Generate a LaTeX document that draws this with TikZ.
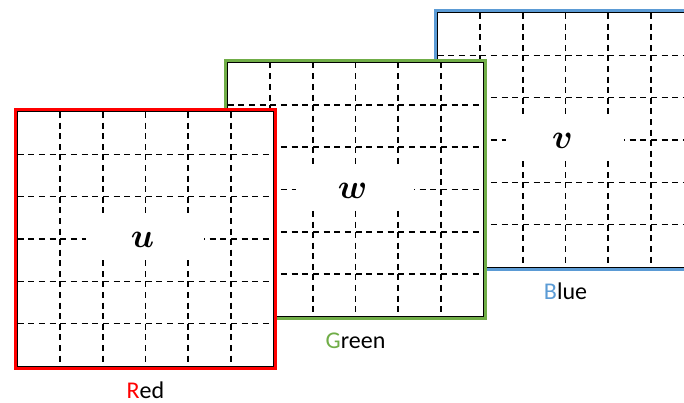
\documentclass[tikz,border=0pt]{standalone}
\usepackage{graphicx}
\usepackage{amsmath}
\usepackage{fontspec}
\setmainfont{Carlito}
\definecolor{cred}{RGB}{255,0,0}
\definecolor{cgreen}{RGB}{112,173,71}
\definecolor{cblue}{RGB}{91,155,213}
\tikzset{
  gridline/.style={black, line width=1.6pt, dash pattern=on 6pt off 4.67pt},
  gapbox/.style={fill=white, minimum width=118pt, minimum height=43.5pt, inner sep=0pt},
  letterlbl/.style={font=\fontsize{20}{24}\selectfont, inner sep=0pt},
  colorlbl/.style={anchor=base, font=\fontsize{24}{28}\selectfont, inner sep=0pt},
}
\newcommand\drawpanel[7]{%
 \begin{scope}[shift={(#2,#3)}]
  \fill[white] (-3,-3) rectangle (259,257);
  \draw[#4, line width=3pt] (-2,-2) rectangle (258,256);
  \draw[black, line width=1pt] (0,0) rectangle (256,254);
  \foreach \i in {1,...,5} {
    \foreach \j in {0,...,5} {
      \draw[gridline] ({\i*256/6},{\j*254/6}) -- ({\i*256/6},{(\j+1)*254/6});
      \draw[gridline] ({\j*256/6},{\i*254/6}) -- ({(\j+1)*256/6},{\i*254/6});
    }
  }
  \node[gapbox] (#1) at (127.5,124) {};
  \node[letterlbl] (#1-let) at (125,128) {\scalebox{1.65}{$\boldsymbol{#5}$}};
  \node[colorlbl] (#1-lab) at (128,286) {\textcolor{#4}{#6}#7};
 \end{scope}}
\begin{document}
\begin{tikzpicture}[x=1pt,y=-1pt]
\useasboundingbox (0,0) rectangle (684,403);
\clip (0,0) rectangle (684,403);
\drawpanel{blue}{437.5}{13}{cblue}{v}{B}{lue}
\drawpanel{green}{227.5}{62.5}{cgreen}{w}{G}{reen}
\drawpanel{red}{17.5}{112}{cred}{u}{R}{ed}
\end{tikzpicture}
\end{document}
